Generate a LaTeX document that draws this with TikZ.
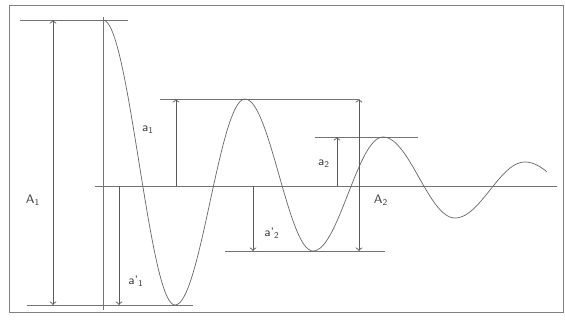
\documentclass[tikz,border=0pt]{standalone}
\usepackage{tikz}
\begin{document}
\begin{tikzpicture}[x=0.02cm, y=-0.02cm,
    guide/.style={black!55, line width=0.5pt},
    dim/.style={black!65, line width=0.5pt, ->},
    dimboth/.style={black!65, line width=0.5pt, <->},
    wave/.style={black!60, line width=0.4pt},
    lbl/.style={font=\sffamily\scriptsize, text=black!75}]
  \useasboundingbox (0,0) rectangle (565,321);
  \draw[black!50] (9,5) rectangle (563,312);
  % axes
  \draw[guide] (95,186) -- (557,186);
  \draw[guide] (103,17) -- (103,310);
  % guide lines at the extremes
  \draw[guide] (20,20) -- (128,20);
  \draw[guide] (27,305) -- (193,305);
  \draw[guide] (160,99) -- (358,99);
  \draw[guide] (315,137) -- (418,137);
  \draw[guide] (225,251) -- (385,251);
  % damped wave, half by half
  \foreach \xa/\ya/\xb/\yb in {103/20/175/305, 175/305/245/99, 245/99/313/251,
                               313/251/383/137, 383/137/455/218, 455/218/525/162}
    \draw[wave, domain=0:1, samples=30, smooth, variable=\t]
      plot ({\xa+\t*(\xb-\xa)}, {(\ya+\yb)/2+(\ya-\yb)/2*cos(180*\t)});
  \draw[wave, domain=0:0.31, samples=10, smooth, variable=\t]
    plot ({525+\t*70}, {184-22*cos(180*\t)});
  % dimension points
  \coordinate (Atop) at (53,20);
  \coordinate (Abot) at (53,305);
  \coordinate (aone0) at (176,186);
  \coordinate (aone) at (176,99);
  \coordinate (aonep0) at (119,186);
  \coordinate (aonep) at (119,305);
  \coordinate (atwop0) at (253,186);
  \coordinate (atwop) at (253,251);
  \coordinate (Btop) at (359,99);
  \coordinate (Bbot) at (359,251);
  \coordinate (atwo0) at (337,186);
  \coordinate (atwo) at (337,137);
  \draw[dimboth] (Atop) -- (Abot);
  \draw[dim] (aone0) -- (aone);
  \draw[dim] (aonep0) -- (aonep);
  \draw[dim] (atwop0) -- (atwop);
  \draw[dimboth] (Btop) -- (Bbot);
  \draw[dim] (atwo0) -- (atwo);
  % labels
  \node[lbl] (lA1) at (33,200) {A\textsubscript{1}};
  \node[lbl] (la1) at (148,130) {a\textsubscript{1}};
  \node[lbl] (la1p) at (136,281) {a'\textsubscript{1}};
  \node[lbl] (la2p) at (272,233) {a'\textsubscript{2}};
  \node[lbl] (la2) at (324,164) {a\textsubscript{2}};
  \node[lbl] (lA2) at (381,200) {A\textsubscript{2}};
\end{tikzpicture}
\end{document}
